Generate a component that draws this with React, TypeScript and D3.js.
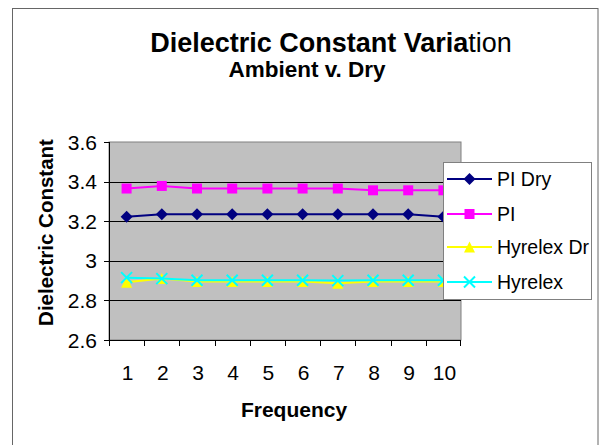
import React from "react";
import * as d3 from "d3";

const categories = ["1", "2", "3", "4", "5", "6", "7", "8", "9", "10"];
const piDry = [3.222, 3.235, 3.235, 3.235, 3.235, 3.235, 3.235, 3.235, 3.235, 3.222];
const pi = [3.365, 3.378, 3.365, 3.365, 3.365, 3.365, 3.365, 3.356, 3.356, 3.356];
const hyrelexDry = [2.892, 2.91, 2.896, 2.896, 2.896, 2.896, 2.886, 2.896, 2.896, 2.896];
const hyrelex = [2.915, 2.91, 2.902, 2.902, 2.902, 2.902, 2.9, 2.902, 2.902, 2.902];
const yTicks = [2.6, 2.8, 3, 3.2, 3.4, 3.6];
const yTickLabels = ["2.6", "2.8", "3", "3.2", "3.4", "3.6"];

const seriesNames = ["PI Dry", "PI", "Hyrelex Dr", "Hyrelex"];
const seriesColors = ["#000080", "#FF00FF", "#FFFF00", "#00FFFF"];
const seriesMarkers = ["diamond", "square", "triangle", "x"];
const seriesData = [piDry, pi, hyrelexDry, hyrelex];

const W = 611;
const H = 445;
const plot = { left: 109, right: 461, top: 142, bottom: 340 };
const FONT = "Arial, 'Liberation Sans', sans-serif";

function Marker({ type, x, y, color }: { type: string; x: number; y: number; color: string }) {
  if (type === "diamond") {
    const s = 6;
    return <path d={`M${x},${y - s}L${x + s},${y}L${x},${y + s}L${x - s},${y}Z`} fill={color} />;
  }
  if (type === "square") {
    const s = 5;
    return <rect x={x - s} y={y - s} width={2 * s} height={2 * s} fill={color} />;
  }
  if (type === "triangle") {
    const s = 5.5;
    return <path d={`M${x},${y - s}L${x + s},${y + s}L${x - s},${y + s}Z`} fill={color} />;
  }
  const s = 5.5;
  return (
    <path
      d={`M${x - s},${y - s}L${x + s},${y + s}M${x - s},${y + s}L${x + s},${y - s}`}
      stroke={color}
      strokeWidth={2}
      fill="none"
    />
  );
}

export default function App() {
  const x = d3
    .scaleBand<string>()
    .domain(categories)
    .range([plot.left, plot.right])
    .paddingInner(0)
    .paddingOuter(0);
  const y = d3.scaleLinear().domain([2.6, 3.6]).range([plot.bottom, plot.top]);
  const cx = (c: string) => (x(c) as number) + x.bandwidth() / 2;
  const line = d3
    .line<number>()
    .x((_, i) => cx(categories[i]))
    .y((d) => y(d));

  const legend = { x: 443, y: 162, w: 148, h: 137 };
  const legendRows = [179, 214, 247, 282];

  return (
    <svg
      width={W}
      height={H}
      style={{ position: "absolute", left: 0, top: 0, background: "#fff" }}
      fontFamily={FONT}
    >
      <defs>
        <clipPath id="legclip">
          <rect x={legend.x} y={legend.y} width={legend.w} height={legend.h} />
        </clipPath>
      </defs>
      <rect x={0} y={0} width={W} height={H} fill="#fff" />
      <rect x={12.5} y={8.5} width={585.5} height={450} fill="none" stroke="#666" strokeWidth={1} />

      <text x={331} y={52} textAnchor="middle" fontSize={27} fontWeight="bold" fill="#000">
        Dielectric Constant Varia<tspan fontWeight="normal">tion</tspan>
      </text>
      <text x={307} y={77} textAnchor="middle" fontSize={22.5} fontWeight="bold" fill="#000">
        Ambient v. Dry
      </text>

      <rect
        x={plot.left}
        y={plot.top}
        width={plot.right - plot.left}
        height={plot.bottom - plot.top}
        fill="#C0C0C0"
        stroke="#808080"
        strokeWidth={1}
      />
      {yTicks.map((t, i) => (
        <g key={i}>
          {i > 0 && i < yTicks.length - 1 && (
            <line x1={plot.left} x2={plot.right} y1={Math.round(y(t)) + 0.5} y2={Math.round(y(t)) + 0.5} stroke="#000" />
          )}
          <line x1={plot.left - 5} x2={plot.left} y1={Math.round(y(t)) + 0.5} y2={Math.round(y(t)) + 0.5} stroke="#000" />
          <text x={97} y={y(t)} dy="0.36em" textAnchor="end" fontSize={21} fill="#000">
            {yTickLabels[i]}
          </text>
        </g>
      ))}
      <line x1={plot.left + 0.5} x2={plot.left + 0.5} y1={plot.top} y2={plot.bottom} stroke="#000" />
      <line x1={plot.left} x2={plot.right} y1={plot.bottom + 0.5} y2={plot.bottom + 0.5} stroke="#000" />
      {categories.map((c, i) => (
        <line
          key={"t" + i}
          x1={Math.round(x(c) as number) + 0.5}
          x2={Math.round(x(c) as number) + 0.5}
          y1={plot.bottom}
          y2={plot.bottom + 6}
          stroke="#000"
        />
      ))}
      <line x1={plot.right - 0.5} x2={plot.right - 0.5} y1={plot.bottom} y2={plot.bottom + 6} stroke="#000" />
      {categories.map((c, i) => (
        <text key={"l" + i} x={cx(c) + 1} y={372} dy="0.36em" textAnchor="middle" fontSize={21} fill="#000">
          {c}
        </text>
      ))}

      <text
        transform={`translate(53,${232.5}) rotate(-90)`}
        textAnchor="middle"
        fontSize={20.5}
        fontWeight="bold"
        fill="#000"
      >
        Dielectric Constant
      </text>
      <text x={294} y={417} textAnchor="middle" fontSize={21} fontWeight="bold" fill="#000">
        Frequency
      </text>

      {seriesData.map((d, si) => (
        <g key={"s" + si}>
          <path d={line(d) || ""} fill="none" stroke={seriesColors[si]} strokeWidth={2} />
          {d.map((v, i) => (
            <Marker key={i} type={seriesMarkers[si]} x={cx(categories[i])} y={y(v)} color={seriesColors[si]} />
          ))}
        </g>
      ))}

      <rect
        x={legend.x + 0.5}
        y={legend.y + 0.5}
        width={legend.w}
        height={legend.h}
        fill="#fff"
        stroke="#808080"
      />
      <g clipPath="url(#legclip)">
        {seriesNames.map((n, i) => (
          <g key={"lg" + i}>
            <line x1={447} x2={492} y1={legendRows[i]} y2={legendRows[i]} stroke={seriesColors[i]} strokeWidth={2} />
            <Marker type={seriesMarkers[i]} x={469.5} y={legendRows[i]} color={seriesColors[i]} />
            <text x={497} y={legendRows[i]} dy="0.36em" fontSize={19.5} fill="#000">
              {n}
            </text>
          </g>
        ))}
      </g>
    </svg>
  );
}
